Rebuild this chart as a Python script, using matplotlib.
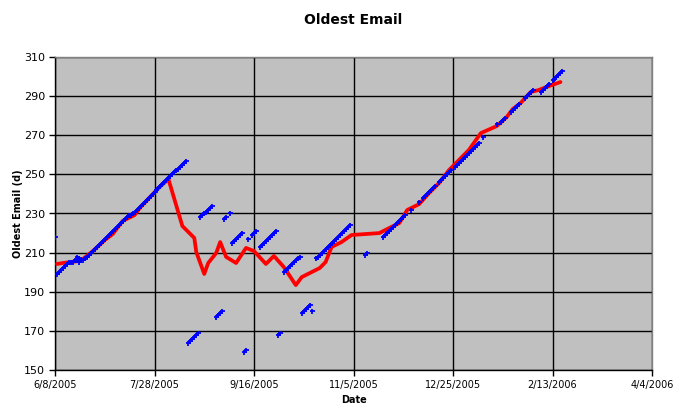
import datetime as dt
import matplotlib
matplotlib.use("Agg")
import matplotlib.pyplot as plt
import matplotlib.dates as mdates
from matplotlib.ticker import FuncFormatter

# ---------------- data ----------------
start_date = dt.date(2005, 6, 8)

# Blue points: day offset from 6/8/2005 and oldest email age (days)
blue_days = [
    0,
    1, 2, 3, 4, 5, 6, 7, 8, 9, 10, 11, 12, 13, 11, 12,
    14, 15, 16, 17, 18, 19, 20, 21, 22, 23, 24, 25, 26, 27, 28, 29, 30,
    31, 32, 33, 34, 35, 36, 37, 38, 39, 40, 41, 42, 43, 44, 45, 46, 47,
    48, 49, 50, 51, 52, 53, 54, 55, 56, 57, 58, 59, 60, 61, 62, 63, 64, 65, 66,
    67, 68, 69, 70, 71, 72,
    73, 74, 75, 76, 77, 78, 79,
    81, 82, 83, 84,
    85, 86, 88,
    89, 90, 91, 92, 93, 94,
    95, 96,
    97, 99, 100, 101,
    103, 104, 105, 106, 107,
    108, 109, 110, 111,
    112, 113,
    115, 116, 117, 118, 119, 120, 121, 122, 123,
    124, 125, 126, 127, 128, 129,
    131, 132, 133, 134, 135, 136, 137, 138, 139, 140, 141, 142, 143, 144,
    145, 146, 147, 148,
    156, 157,
    165, 166, 167, 168, 169, 170, 171, 172, 173, 174, 175, 176,
    179, 183,
    185, 186, 187, 188, 189, 190, 191,
    193, 194, 195, 196, 197, 198, 199,
    201, 202, 203, 204, 205, 206, 207, 208, 209, 210, 211, 212, 213,
    215, 222, 224, 225, 226,
    229, 230, 231, 232, 233,
    236, 237, 238, 239, 240,
    244, 245, 246, 247, 248,
    250, 251, 252, 253, 254, 255,
]
blue_vals = [
    218,
    199, 200, 201, 202, 203, 204, 205, 205, 205, 206, 206, 205, 206, 208, 207,
    206, 207, 208, 209, 210, 211, 212, 213, 214, 215, 216, 217, 218, 219, 220, 221, 222,
    223, 224, 225, 226, 227, 228, 229, 229, 230, 231, 232, 233, 234, 235, 236, 237, 238,
    239, 240, 241, 242, 243, 244, 245, 246, 247, 248, 249, 250, 251, 252, 253, 254, 255, 256, 257,
    164, 165, 166, 167, 168, 169,
    228, 229, 230, 231, 232, 233, 234,
    177, 178, 179, 180,
    227, 228, 230,
    215, 216, 217, 218, 219, 220,
    159, 160,
    217, 219, 220, 221,
    213, 214, 215, 216, 217,
    218, 219, 220, 221,
    168, 169,
    200, 201, 202, 203, 204, 205, 206, 207, 208,
    179, 180, 181, 182, 183, 180,
    207, 208, 209, 210, 211, 212, 213, 214, 215, 216, 217, 218, 219, 220,
    221, 222, 223, 224,
    209, 210,
    218, 219, 220, 221, 222, 223, 224, 225, 226, 227, 228, 229,
    232, 236,
    238, 239, 240, 241, 242, 243, 244,
    246, 247, 248, 249, 250, 251, 252,
    254, 255, 256, 257, 258, 259, 260, 261, 262, 263, 264, 265, 266,
    269, 276, 277, 278, 279,
    282, 283, 284, 285, 286,
    289, 290, 291, 292, 293,
    292, 293, 294, 295, 296,
    298, 299, 300, 301, 302, 303,
]

# Red moving-average line
red_days = [1, 4, 12.6, 14.1, 19.1, 25.1, 29.1, 34.2, 40.2, 43.7, 52.8, 57.3,
            64.3, 70.4, 71.9, 75.9, 77.9, 81.4, 83.4, 86.4, 91, 96, 100.5,
            106, 110, 115.6, 121.6, 124.1, 133.2, 136.7, 139.7, 144.2, 149.2,
            163.3, 168.3, 173.4, 177.9, 183.4, 188.4, 193.5, 198.5, 208.5,
            214.6, 222.6, 227.1, 230.2, 234.7, 239.7, 243.7, 247.7, 254.8]
red_vals = [204.2, 204.7, 205.7, 206.7, 210.8, 216.4, 219.5, 226.2, 229.2, 233.3,
            243.0, 247.6, 223.6, 217.5, 210.3, 199.1, 204.7, 209.8, 215.4,
            207.8, 204.7, 212.4, 210.8, 204.2, 208.3, 202.6, 193.4, 197.5,
            202.1, 205.2, 212.9, 215.4, 219.0, 220.0, 222.6, 225.1, 231.8,
            234.8, 240.5, 245.6, 252.2, 262.5, 271.1, 274.7, 279.3, 283.4,
            286.5, 292.1, 293.1, 294.7, 297.2]

x_tick_dates = ["2005-06-08", "2005-07-28", "2005-09-16", "2005-11-05",
                "2005-12-25", "2006-02-13", "2006-04-04"]
y_ticks = [150, 170, 190, 210, 230, 250, 270, 290, 310]

# ---------------- plot ----------------
def to_date(d):
    return start_date + dt.timedelta(days=d)

fig = plt.figure(figsize=(6.83, 4.15), dpi=100)
fig.patch.set_facecolor("white")
ax = fig.add_axes([55 / 683, 1 - 370 / 415, (652 - 55) / 683, (370 - 57) / 415])
ax.set_facecolor("#C0C0C0")

rx = [mdates.date2num(to_date(d)) for d in red_days]
bx = [mdates.date2num(to_date(d)) for d in blue_days]

ax.plot(rx, red_vals, color="#FF0000", lw=2.7, solid_joinstyle="round",
        solid_capstyle="round", zorder=3)
ax.plot(bx, blue_vals, linestyle="none", marker="+", color="#0000FF",
        markersize=3.6, mew=1.3, zorder=4)

xt = [mdates.date2num(dt.date.fromisoformat(s)) for s in x_tick_dates]
ax.set_xlim(xt[0], xt[-1])
ax.set_ylim(150, 310)
ax.set_xticks(xt)
ax.set_yticks(y_ticks)
ax.xaxis.set_major_formatter(FuncFormatter(
    lambda v, p: f"{mdates.num2date(v).month}/{mdates.num2date(v).day}/{mdates.num2date(v).year}"))

ax.grid(True, color="black", lw=1.0)
ax.set_axisbelow(True)
for s in ["top", "right"]:
    ax.spines[s].set_color("#808080")
    ax.spines[s].set_linewidth(1.0)
for s in ["left", "bottom"]:
    ax.spines[s].set_color("black")
    ax.spines[s].set_linewidth(1.0)

ax.tick_params(axis="both", direction="out", length=4, width=1, color="black")
ax.tick_params(axis="x", labelsize=7, pad=3)
ax.tick_params(axis="y", labelsize=8, pad=3)

ax.set_title("Oldest Email", fontsize=10, fontweight="bold", pad=24)
ax.set_xlabel("Date", fontsize=7, fontweight="bold", labelpad=4)
ax.set_ylabel("Oldest Email (d)", fontsize=7, fontweight="bold", labelpad=1)

fig.savefig("out.png", dpi=100)
